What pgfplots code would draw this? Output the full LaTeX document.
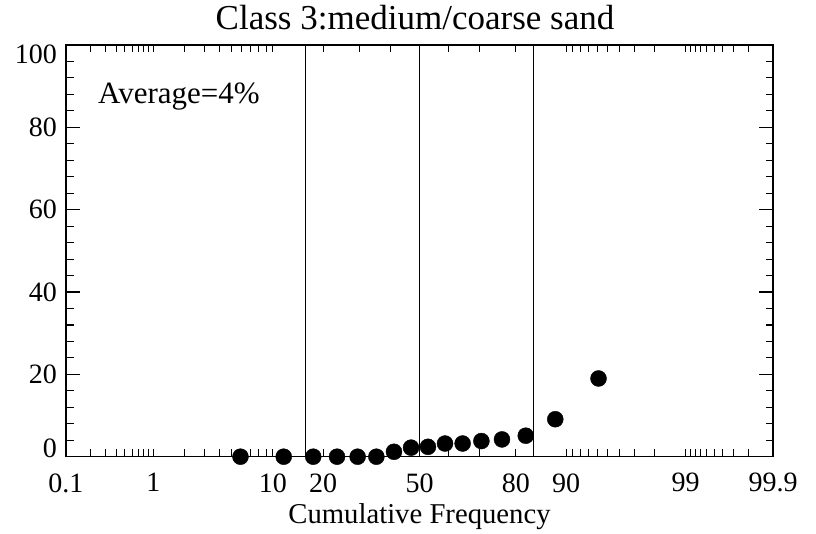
\documentclass[border=0pt]{standalone}
\usepackage{fontspec}
\setmainfont{Liberation Serif}
\usepackage{pgfplots}
\pgfplotsset{compat=1.18}
\begin{document}
\begin{tikzpicture}
\begin{axis}[
  name=ax,
  at={(0,0)}, anchor=south west,
  scale only axis,
  width=707pt, height=411.7pt,
  xmin=-3.0902, xmax=3.0902,
  ymin=0, ymax=100,
  clip=false,
  axis line style={line width=1.3pt},
  tick pos=both,
  tick align=inside,
  xticklabel pos=lower, yticklabel pos=left,
  xtick={-3.0902,-2.3263,-1.2816,-0.8416,0,0.8416,1.2816,2.3263,3.0902},
  xticklabels={0.1,1,10,20,50,80,90,99,99.9},
  every major x tick/.append style={draw=none},
  minor xtick={-3.0902,-2.8782,-2.7478,-2.6521,-2.5758,-2.5121,-2.4573,-2.4089,-2.3656,-2.3263,
    -2.0537,-1.8808,-1.7507,-1.6449,-1.5548,-1.4758,-1.4051,-1.3408,-1.2816,
    -0.8416,-0.5244,-0.2533,0,0.2533,0.5244,0.8416,
    1.2816,1.3408,1.4051,1.4758,1.5548,1.6449,1.7507,1.8808,2.0537,2.3263,
    2.3656,2.4089,2.4573,2.5121,2.5758,2.6521,2.7478,2.8782,3.0902},
  ytick={0,20,40,60,80,100},
  yticklabels={{\raisebox{8.5pt}[\height][\depth]{0}},20,40,60,80,{\raisebox{-9pt}[\height][\depth]{100}}},
  minor y tick num=4,
  major tick length=14pt,
  minor tick length=7.5pt,
  every tick/.style={black, line width=1.1pt},
  /pgf/number format/assume math mode=true,
  xticklabel style={font=\fontsize{28}{30}\selectfont, inner sep=0pt, yshift=-16.5pt},
  yticklabel style={font=\fontsize{28}{30}\selectfont, inner sep=0pt, xshift=-9pt},
]
\addplot[black, line width=1pt] coordinates {(-1,0) (-1,100)};
\addplot[black, line width=1pt] coordinates {(0,0) (0,100)};
\addplot[black, line width=1pt] coordinates {(1,0) (1,100)};
\addplot[only marks, mark=*, mark size=8pt, black] table[row sep=\\] {
x y\\
-1.565 0\\
-1.187 0\\
-0.929 0\\
-0.721 0\\
-0.541 0\\
-0.377 0\\
-0.223 1.2\\
-0.0738 2.2\\
0.0738 2.4\\
0.223 3.2\\
0.377 3.2\\
0.541 3.8\\
0.721 4.2\\
0.929 5.1\\
1.187 9.1\\
1.565 19.0\\
};
\node[anchor=west, inner sep=0pt, font=\fontsize{31}{33}\selectfont] at (rel axis cs:0.0453,0.875) {Average=4\%};
\end{axis}
\node[anchor=base, font=\fontsize{35}{38}\selectfont] at ([xshift=-4.5pt,yshift=15pt]ax.north) {Class 3:medium/coarse sand};
\node[anchor=center, font=\fontsize{28.7}{31}\selectfont] at ([yshift=-60pt]ax.south) {Cumulative Frequency};
\path[use as bounding box] ([xshift=-66pt,yshift=-77.3pt]ax.south west) rectangle ([xshift=43pt,yshift=45pt]ax.north east);
\end{tikzpicture}
\end{document}
